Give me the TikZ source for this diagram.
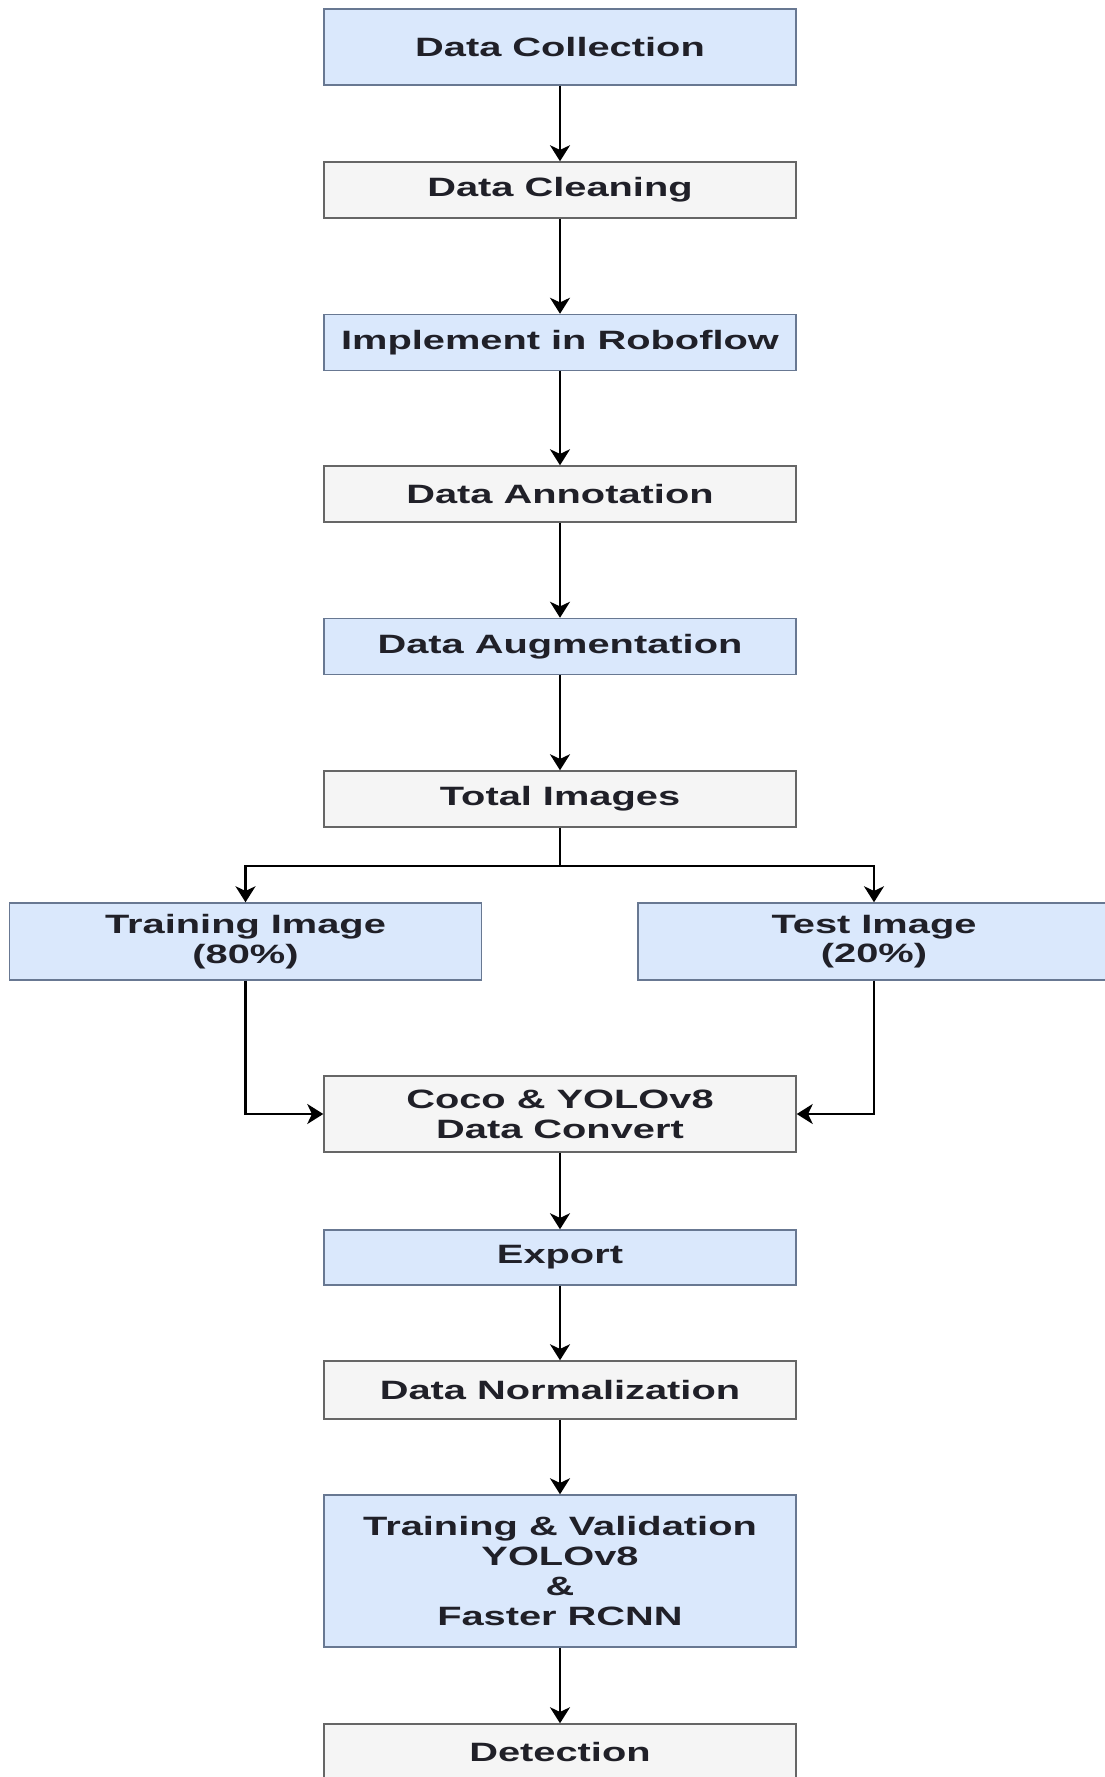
\documentclass[tikz,border=0pt]{standalone}
\usepackage{fontspec}
\newfontfamily\boxfont{Liberation Sans}[FakeStretch=1.5]
\usetikzlibrary{arrows.meta}
\definecolor{bluefill}{RGB}{218,232,252}
\definecolor{bluedraw}{RGB}{104,120,146}
\definecolor{grayfill}{RGB}{245,245,245}
\definecolor{graydraw}{RGB}{102,102,102}
\definecolor{boxtext}{RGB}{32,32,40}
\begin{document}
\begin{tikzpicture}[x=0.75pt,y=0.75pt,yscale=-1,xscale=1,
  stepbase/.style={rectangle,line width=1.1pt,minimum width=354pt,minimum height=42pt,
    inner sep=0pt,align=center,text=boxtext,
    font=\boxfont\bfseries\fontsize{19.9pt}{22.3pt}\selectfont},
  bluebox/.style={stepbase,draw=bluedraw,fill=bluefill},
  graybox/.style={stepbase,draw=graydraw,fill=grayfill},
  flow/.style={draw=black,line width=1.7pt,-{Stealth[length=12pt,width=15pt,inset=3.5pt]}},
  plain/.style={draw=black,line width=1.7pt}]
\useasboundingbox (0,0) rectangle (1105,1777);
\fill[white] (0,0) rectangle (1105,1777);
\draw (560,47) node [bluebox,minimum height=57pt] (coll) {Data Collection};
\draw (560,190) node [graybox] (clean) {Data Cleaning};
\draw (560,342.5) node [bluebox] (robo) {Implement in Roboflow};
\draw (560,494) node [graybox] (annot) {Data Annotation};
\draw (560,646.5) node [bluebox] (augm) {Data Augmentation};
\draw (560,799) node [graybox] (total) {Total Images};
\draw (245.5,941.5) node [bluebox,minimum height=57.75pt] (train) {Training Image\\(80\%)};
\draw (874,941.5) node [bluebox,minimum height=57.75pt] (test) {Test Image\\(20\%)};
\draw (560,1114) node [graybox,minimum height=57pt] (coco) {Coco \& YOLOv8\\Data Convert};
\draw (560,1257.5) node [bluebox,minimum height=41.25pt] (export) {Export};
\draw (560,1390) node [graybox,minimum height=43.5pt] (norm) {Data Normalization};
\draw (560,1571) node [bluebox,minimum height=114pt] (trainval) {Training \& Validation\\YOLOv8\\\&\\Faster RCNN};
\draw (560,1752) node [graybox] (detect) {Detection};
\coordinate (split) at (560,866);
\draw [flow] (coll) -- (clean);
\draw [flow] (clean) -- (robo);
\draw [flow] (robo) -- (annot);
\draw [flow] (annot) -- (augm);
\draw [flow] (augm) -- (total);
\draw [plain] (total) -- (split);
\draw [flow] (split) -| (train);
\draw [flow] (split) -| (test);
\draw [flow] (train) |- (coco);
\draw [flow] (test) |- (coco);
\draw [flow] (coco) -- (export);
\draw [flow] (export) -- (norm);
\draw [flow] (norm) -- (trainval);
\draw [flow] (trainval) -- (detect);
\end{tikzpicture}
\end{document}
